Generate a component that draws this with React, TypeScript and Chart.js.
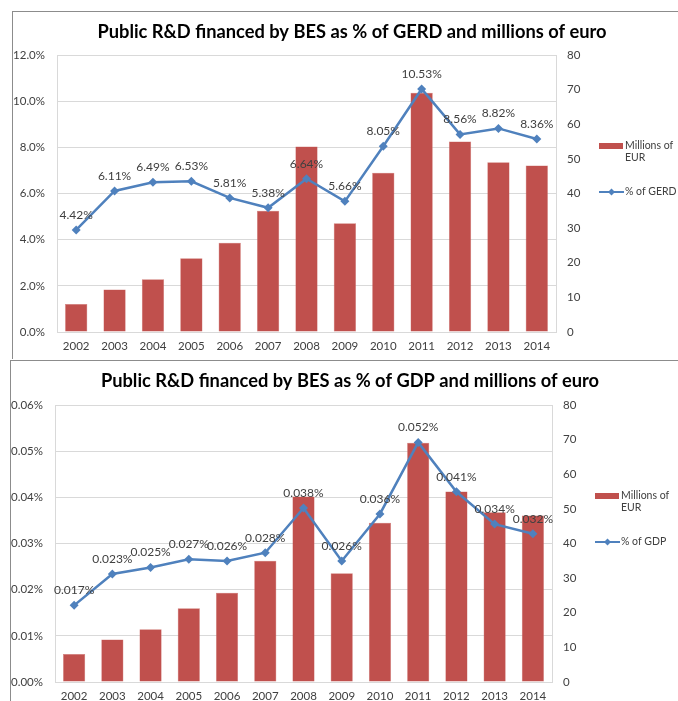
import React, { useEffect, useRef } from "react";
import { Chart, registerables } from "chart.js";

Chart.register(...registerables);

const years = ["2002", "2003", "2004", "2005", "2006", "2007", "2008", "2009", "2010", "2011", "2012", "2013", "2014"];
const millionsEur = [8.1, 12.3, 15.2, 21.3, 25.8, 35.0, 53.6, 31.4, 46.0, 69.1, 55.0, 49.0, 48.1];
const pctOfGerd = [4.42, 6.11, 6.49, 6.53, 5.81, 5.38, 6.64, 5.66, 8.05, 10.53, 8.56, 8.82, 8.36];
const pctOfGdp = [0.0166, 0.0234, 0.0248, 0.0266, 0.0262, 0.028, 0.0377, 0.0262, 0.0364, 0.0519, 0.0412, 0.0342, 0.0321];

const title1 = "Public R&D financed by BES as % of GERD and millions of euro";
const title2 = "Public R&D financed by BES as % of GDP and millions of euro";
const barLabel = ["Millions of", "EUR"];
const lineLabel1 = "% of GERD";
const lineLabel2 = "% of GDP";

const FONT = 'Lato, "Open Sans", sans-serif';
const BAR = "#C0504D";
const LINE = "#4F81BD";
const TXT = "#404040";
const GRID = "#D9D9D9";

type PanelProps = {
  title: string;
  lineLabel: string;
  lineData: number[];
  leftMax: number;
  leftStep: number;
  leftDec: number;
  labelDec: number;
  width: number;
  height: number;
  leftW: number;
  rightPad: number;
  topPad: number;
  bottomH: number;
};

function Panel(p: PanelProps) {
  const ref = useRef<HTMLCanvasElement>(null);
  useEffect(() => {
    if (!ref.current) return;
    const overlay = {
      id: "overlay",
      afterDatasetsDraw(chart: any) {
        const ctx = chart.ctx;
        ctx.save();
        // data labels
        const meta = chart.getDatasetMeta(1);
        ctx.font = `12px ${FONT}`;
        ctx.fillStyle = TXT;
        ctx.textAlign = "center";
        ctx.textBaseline = "middle";
        meta.data.forEach((pt: any, i: number) => {
          ctx.fillText(p.lineData[i].toFixed(p.labelDec) + "%", pt.x, pt.y - 15);
        });
        // title
        ctx.font = `bold 18.3px ${FONT}`;
        ctx.fillStyle = "#000";
        ctx.fillText(p.title, 339, 20);
        // legend
        const lx = chart.chartArea.right + 43;
        const ly = chart.chartArea.top + 91;
        ctx.fillStyle = BAR;
        ctx.fillRect(lx, ly - 3, 24, 6);
        ctx.font = `10.5px ${FONT}`;
        ctx.fillStyle = TXT;
        ctx.textAlign = "left";
        ctx.fillText(barLabel[0], lx + 26, ly);
        ctx.fillText(barLabel[1], lx + 26, ly + 12);
        const yl = ly + 46;
        ctx.strokeStyle = LINE;
        ctx.lineWidth = 2;
        ctx.beginPath();
        ctx.moveTo(lx, yl);
        ctx.lineTo(lx + 25, yl);
        ctx.stroke();
        ctx.fillStyle = LINE;
        ctx.beginPath();
        ctx.moveTo(lx + 12.5, yl - 3.5);
        ctx.lineTo(lx + 16, yl);
        ctx.lineTo(lx + 12.5, yl + 3.5);
        ctx.lineTo(lx + 9, yl);
        ctx.closePath();
        ctx.fill();
        ctx.fillStyle = TXT;
        ctx.fillText(p.lineLabel, lx + 26, yl);
        ctx.restore();
      },
    };
    const chart = new Chart(ref.current, {
      type: "bar",
      data: {
        labels: years,
        datasets: [
          {
            type: "bar",
            label: "Millions of EUR",
            data: millionsEur,
            backgroundColor: BAR,
            borderColor: "#D07774",
            borderWidth: 0.5,
            yAxisID: "yR",
            categoryPercentage: 1,
            barPercentage: 0.58,
            order: 2,
          },
          {
            type: "line",
            label: p.lineLabel,
            data: p.lineData,
            borderColor: LINE,
            backgroundColor: LINE,
            borderWidth: 2.5,
            pointStyle: "rectRot",
            pointRadius: 4.5,
            pointBorderWidth: 0,
            tension: 0,
            yAxisID: "yL",
            order: 1,
          },
        ],
      },
      options: {
        animation: false,
        responsive: false,
        maintainAspectRatio: false,
        layout: { padding: { left: 0, right: p.rightPad, top: p.topPad, bottom: 0 } },
        plugins: { legend: { display: false }, title: { display: false }, tooltip: { enabled: false } },
        scales: {
          x: {
            grid: { display: false, drawTicks: false },
            border: { display: true, color: GRID },
            ticks: { color: TXT, font: { family: FONT, size: 11.5 }, padding: 7, maxRotation: 0 },
            afterFit: (s: any) => {
              s.height = p.bottomH;
            },
          },
          yL: {
            position: "left",
            min: 0,
            max: p.leftMax,
            grid: { color: GRID, drawTicks: false, lineWidth: 1 },
            border: { display: true, color: GRID },
            ticks: {
              stepSize: p.leftStep,
              color: TXT,
              font: { family: FONT, size: 11.5 },
              padding: 12,
              callback: (v: any) => Number(v).toFixed(p.leftDec) + "%",
            },
            afterFit: (s: any) => {
              s.width = p.leftW;
            },
          },
          yR: {
            position: "right",
            min: 0,
            max: 80,
            grid: { drawOnChartArea: false, drawTicks: false },
            border: { display: true, color: GRID },
            ticks: { stepSize: 10, color: TXT, font: { family: FONT, size: 11.5 }, padding: 11 },
            afterFit: (s: any) => {
              s.width = 40;
            },
          },
        },
      },
      plugins: [overlay],
    } as any);
    return () => chart.destroy();
  }, []);
  return <canvas ref={ref} width={p.width} height={p.height} style={{ display: "block", width: p.width, height: p.height }} />;
}

export default function App() {
  return (
    <div>
      <div
        style={{
          position: "absolute",
          left: 12,
          top: 11,
          width: 665,
          height: 347,
          borderLeft: "1px solid #8C8C8C",
          borderTop: "1px solid #8C8C8C",
          background: "#fff",
        }}
      >
        <Panel
          title={title1}
          lineLabel={lineLabel1}
          lineData={pctOfGerd}
          leftMax={12}
          leftStep={2}
          leftDec={1}
          labelDec={2}
          width={665}
          height={347}
          leftW={44}
          rightPad={82}
          topPad={43}
          bottomH={27}
        />
      </div>
      <div
        style={{
          position: "absolute",
          left: 10,
          top: 360,
          width: 667,
          height: 340,
          borderLeft: "1px solid #8C8C8C",
          borderTop: "1px solid #8C8C8C",
          background: "#fff",
        }}
      >
        <Panel
          title={title2}
          lineLabel={lineLabel2}
          lineData={pctOfGdp}
          leftMax={0.06}
          leftStep={0.01}
          leftDec={2}
          labelDec={3}
          width={667}
          height={340}
          leftW={44}
          rightPad={86}
          topPad={44}
          bottomH={19}
        />
      </div>
    </div>
  );
}
